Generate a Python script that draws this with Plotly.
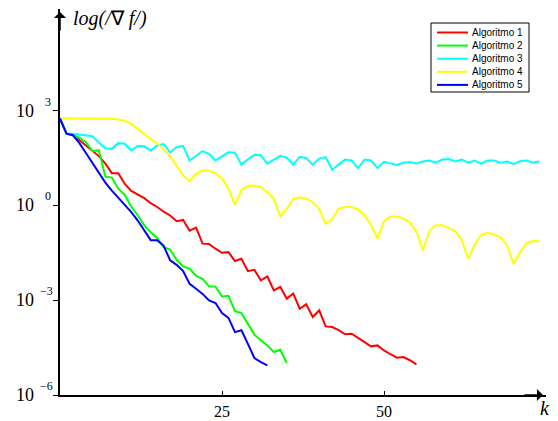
import numpy as np
import plotly.graph_objects as go

# ---------------- data (log10 of |grad f|) ----------------
names = ["Algoritmo 1", "Algoritmo 2", "Algoritmo 3", "Algoritmo 4", "Algoritmo 5"]
colors = ["#ff0000", "#00ff00", "#00ffff", "#ffff00", "#0000ff"]

alg1_log = [2.75, 2.27, 2.23, 2.07, 1.89, 1.74, 1.56, 1.32, 1.02, 1.02,
            0.68, 0.46, 0.35, 0.23, 0.07, -0.05, -0.20, -0.32, -0.50, -0.46,
            -0.80, -0.70, -1.21, -1.22, -1.37, -1.50, -1.48, -1.76, -1.69, -2.08,
            -2.04, -2.37, -2.25, -2.69, -2.58, -2.95, -2.79, -3.27, -3.13, -3.53,
            -3.32, -3.83, -3.85, -3.95, -4.08, -4.06, -4.19, -4.33, -4.46, -4.43,
            -4.59, -4.71, -4.82, -4.80, -4.90, -5.03]
alg2_log = [2.75, 2.27, 2.23, 2.14, 2.00, 1.72, 1.74, 0.91, 0.88, 0.53,
            0.33, -0.04, -0.31, -0.63, -0.85, -1.03, -1.32, -1.40, -1.72, -1.93,
            -2.00, -2.23, -2.32, -2.56, -2.57, -2.88, -2.86, -3.35, -3.41, -3.77,
            -4.09, -4.27, -4.43, -4.64, -4.57, -4.99]
alg3_log = [2.75, 2.27, 2.27, 2.24, 2.20, 2.19, 1.99, 1.81, 1.79, 1.97,
            1.95, 1.74, 1.88, 1.87, 1.74, 1.90, 1.94, 1.67, 1.85, 1.88,
            1.42, 1.57, 1.72, 1.63, 1.42, 1.55, 1.68, 1.67, 1.29, 1.46,
            1.60, 1.59, 1.32, 1.45, 1.57, 1.51, 1.29, 1.54, 1.50, 1.29,
            1.48, 1.53, 1.13, 1.29, 1.45, 1.42, 1.18, 1.45, 1.42, 1.18,
            1.38, 1.33, 1.28, 1.35, 1.37, 1.33, 1.39, 1.42, 1.35, 1.45,
            1.47, 1.39, 1.45, 1.35, 1.42, 1.32, 1.42, 1.42, 1.35, 1.39,
            1.31, 1.40, 1.42, 1.35, 1.40]
alg4_log = [2.76, 2.76, 2.76, 2.76, 2.76, 2.76, 2.76, 2.75, 2.74, 2.72,
            2.68, 2.58, 2.42, 2.25, 2.10, 1.96, 1.78, 1.55, 1.27, 0.95,
            0.77, 1.00, 1.11, 1.10, 1.02, 0.85, 0.53, 0.02, 0.48, 0.62,
            0.63, 0.58, 0.42, 0.21, -0.35, -0.11, 0.21, 0.26, 0.21, 0.10,
            -0.11, -0.59, -0.44, -0.10, -0.05, -0.05, -0.12, -0.31, -0.63, -1.05,
            -0.50, -0.35, -0.35, -0.42, -0.54, -0.84, -1.42, -0.81, -0.63, -0.63,
            -0.71, -0.82, -1.09, -1.69, -1.23, -0.94, -0.87, -0.92, -1.02, -1.26,
            -1.85, -1.48, -1.19, -1.13, -1.14]
alg5_log = [2.75, 2.27, 2.22, 1.97, 1.66, 1.35, 1.03, 0.72, 0.47, 0.24,
            0.01, -0.21, -0.48, -0.80, -1.10, -1.10, -1.28, -1.74, -1.88, -2.08,
            -2.48, -2.64, -2.80, -3.01, -3.09, -3.41, -3.56, -4.01, -3.95, -4.38,
            -4.83, -4.96, -5.06]

series_log = [alg1_log, alg2_log, alg3_log, alg4_log, alg5_log]

x_tick_vals = [25, 50]
y_tick_exps = [-6, -3, 0, 3]
y_tick_exp_text = ["\u22126", "\u22123", "0", "3"]

# ---------------- layout geometry (pixels) ----------------
W, H = 558, 421
L0, R0, T0, B0 = 60, 546, 9, 395
PW, PH = R0 - L0, B0 - T0


def px(xp):
    return (xp - L0) / PW


def py(yp):
    return (B0 - yp) / PH


serif = "Liberation Serif, Times New Roman, serif"
sans = "Liberation Sans, Arial, sans-serif"

fig = go.Figure()
for name, col, vals in zip(names, colors, series_log):
    k = np.arange(len(vals))
    fig.add_trace(go.Scatter(x=k, y=10.0 ** np.array(vals), mode="lines", name=name,
                             line=dict(color=col, width=2), showlegend=False,
                             hoverinfo="skip"))

annotations = []
shapes = []

# y tick labels: "10" with raised exponent
for e, et in zip(y_tick_exps, y_tick_exp_text):
    annotations.append(dict(xref="paper", yref="y", x=0, y=e, text="10", showarrow=False,
                            xanchor="right", yanchor="middle", xshift=-24, yshift=0,
                            font=dict(family=serif, size=18, color="black")))
    shift = -22 if et.startswith("\u2212") else -17
    annotations.append(dict(xref="paper", yref="y", x=0, y=e, text=et, showarrow=False,
                            xanchor="left", yanchor="middle", xshift=shift, yshift=9,
                            font=dict(family=serif, size=12, color="black")))

# axis titles
annotations.append(dict(xref="paper", yref="paper", x=px(71), y=py(19),
                        text="<i>log(/</i>\u2207 <i>f/)</i>",
                        showarrow=False, xanchor="left", yanchor="middle",
                        font=dict(family=serif, size=20, color="black")))
annotations.append(dict(xref="paper", yref="paper", x=px(545), y=py(408), text="<i>k</i>",
                        showarrow=False, xanchor="center", yanchor="middle",
                        font=dict(family=serif, size=20, color="black")))

# axis arrow heads
annotations.append(dict(xref="paper", yref="paper", x=px(543), y=0, ax=-20, ay=0,
                        showarrow=True, arrowhead=1, arrowsize=1.35, arrowwidth=1.5,
                        arrowcolor="black", text=""))
annotations.append(dict(xref="paper", yref="paper", x=0, y=py(12), ax=0, ay=20,
                        showarrow=True, arrowhead=1, arrowsize=1.35, arrowwidth=1.5,
                        arrowcolor="black", text=""))

# legend box
lg_l, lg_t, lg_r, lg_b = 431, 23, 529, 92
shapes.append(dict(type="rect", xref="paper", yref="paper", x0=px(lg_l), x1=px(lg_r),
                   y0=py(lg_b), y1=py(lg_t), line=dict(color="black", width=1),
                   fillcolor="white", layer="above"))
for i, (name, col) in enumerate(zip(names, colors)):
    yy = 32.5 + 13.1 * i
    shapes.append(dict(type="line", xref="paper", yref="paper", x0=px(437), x1=px(468),
                       y0=py(yy), y1=py(yy), line=dict(color=col, width=2), layer="above"))
    annotations.append(dict(xref="paper", yref="paper", x=px(470), y=py(yy), text=name,
                            showarrow=False, xanchor="left", yanchor="middle",
                            font=dict(family=sans, size=10, color="black")))

fig.update_layout(
    width=W, height=H,
    margin=dict(l=L0, r=W - R0, t=T0, b=H - B0, pad=0, autoexpand=False),
    paper_bgcolor="white", plot_bgcolor="white",
    showlegend=False,
    annotations=annotations, shapes=shapes,
    xaxis=dict(range=[0, 75], showgrid=False, zeroline=False, showline=True,
               linecolor="black", linewidth=1.5, tickvals=x_tick_vals,
               ticks="inside", ticklen=4, tickwidth=1, tickcolor="black",
               automargin=False, ticklabelstandoff=1,
               tickfont=dict(family=serif, size=16, color="black")),
    yaxis=dict(type="log", range=[-6, -6 + PH / 31.6], showgrid=False, zeroline=False,
               showline=True, linecolor="black", linewidth=1.5, automargin=False,
               tickvals=[10.0 ** e for e in y_tick_exps], showticklabels=False,
               ticks="outside", ticklen=5, tickwidth=1, tickcolor="black"),
)

fig.write_html("out.html", config={"displayModeBar": False},
               post_script="document.body.style.margin='0px';document.body.style.overflow='hidden';")
